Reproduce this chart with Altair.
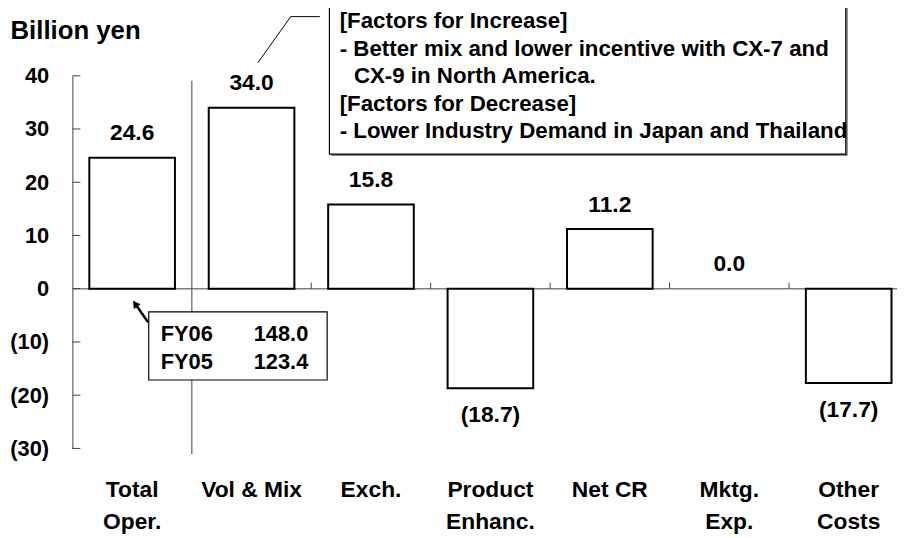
import altair as alt
import pandas as pd

FONT = "Liberation Sans"

# ---- data ----
categories = ["Total\nOper.", "Vol & Mix", "Exch.", "Product\nEnhanc.", "Net CR", "Mktg.\nExp.", "Other\nCosts"]
values = [24.6, 34.0, 15.8, -18.7, 11.2, 0.0, -17.7]
y_ticks = [-30, -20, -10, 0, 10, 20, 30, 40]
band_edges = [2, 3, 4, 5, 6]          # tick marks on the zero line (category boundaries)
separator_x = [1]                      # boundary between Total Oper. and the factors

# Callout box (top) — positions in category-index / billion-yen units
box1_x = [2.152]; box1_x2 = [6.476]; box1_y = [53.16]; box1_y2 = [25.29]
box1_lines = ["[Factors for Increase]",
              "- Better mix and lower incentive with CX-7 and",
              "CX-9 in North America.",
              "[Factors for Decrease]",
              "- Lower Industry Demand in Japan and Thailand"]
box1_line_x = [2.238, 2.238, 2.357, 2.238, 2.238]
box1_line_y = [48.95, 43.80, 38.65, 33.45, 28.25]
leader_x = [1.552, 1.828, 2.072]
leader_y = [42.42, 51.11, 51.11]

# FY box (bottom left)
fy_box_x = [0.639]; fy_box_x2 = [2.133]; fy_box_y = [-4.36]; fy_box_y2 = [-17.15]
fy_names = ["FY06", "FY05"]
fy_values = ["148.0", "123.4"]
fy_name_x = [0.739, 0.739]
fy_value_x = [1.975, 1.975]
fy_line_y = [-9.84, -15.11]
arrow_x = [0.634, 0.525]
arrow_y = [-6.30, -2.82]

# ---- frames ----
labels = [f"({abs(v):.1f})" if v < 0 else f"{v:.1f}" for v in values]
bars_df = pd.DataFrame({"cat": categories, "value": values, "base": [0] * len(values), "label": labels})

W_RANGE = 843.5
ys = alt.Scale(domain=[-30, 40], nice=False, zero=False)
qscale = alt.Scale(domain=[0, 7], range=[0, W_RANGE], nice=False, zero=False)

yaxis = alt.Axis(values=y_ticks, ticks=False, grid=False, domainColor="#404040", domainWidth=1,
                 labelExpr="datum.value < 0 ? '(' + abs(datum.value) + ')' : datum.label",
                 labelFont=FONT, labelFontSize=22, labelFontWeight="bold", labelColor="black",
                 labelPadding=24,
                 title="Billion yen", titleAngle=0, titleAlign="left", titleBaseline="alphabetic",
                 titleX=-63, titleY=-38, titleFont=FONT, titleFontSize=26, titleFontWeight="bold",
                 titleColor="black")


def qx(field):
    return alt.X(field, type="quantitative", scale=qscale, axis=None)


def qy(field):
    return alt.Y(field, type="quantitative", scale=ys, axis=yaxis)


xb = alt.X("cat:N", sort=categories,
           scale=alt.Scale(domain=categories, range=[0, W_RANGE], paddingInner=0.283, paddingOuter=0.1415),
           axis=alt.Axis(title=None, ticks=False, domain=False, labelAngle=0, grid=False,
                         labelExpr="split(datum.label, '\\n')",
                         labelFont=FONT, labelFontSize=23, labelFontWeight="bold", labelColor="black",
                         labelPadding=31, labelLineHeight=32, labelBaseline="top"))

# ---- under layers (quantitative x) ----
zero_df = pd.DataFrame({"x": [0], "x2": [7], "y": [0]})
zero_line = alt.Chart(zero_df).mark_rule(color="#7f7f7f", strokeWidth=1.5).encode(
    x=qx("x"), x2="x2:Q", y=qy("y"))

xt_df = pd.DataFrame({"x": band_edges, "y": [0] * len(band_edges), "y2": [1.12] * len(band_edges)})
xticks = alt.Chart(xt_df).mark_rule(color="#404040", strokeWidth=1).encode(
    x=qx("x"), y=qy("y"), y2="y2:Q")

sep_df = pd.DataFrame({"x": separator_x, "y": [39.07], "y2": [-31.1]})
separator = alt.Chart(sep_df).mark_rule(color="#404040", strokeWidth=1).encode(
    x=qx("x"), y=qy("y"), y2="y2:Q")

yt_df = pd.DataFrame({"t": y_ticks})
yticks = alt.Chart(yt_df).mark_rule(color="#404040", strokeWidth=1).encode(
    y=qy("t"), x=alt.value(0), x2=alt.value(8))

under = alt.layer(zero_line, xticks, separator, yticks)

# ---- bars and value labels (band x) ----
bars = alt.Chart(bars_df).transform_filter("datum.value != 0").mark_bar(
    fill="white", stroke="black", strokeWidth=2).encode(
    x=xb, y=qy("value"), y2="base:Q")

lab_pos = alt.Chart(bars_df).transform_filter("datum.value >= 0").mark_text(
    font=FONT, fontSize=23, fontWeight="bold", color="black", baseline="alphabetic", dy=-17.5).encode(
    x=xb, y=qy("value"), text="label:N")
lab_neg = alt.Chart(bars_df).transform_filter("datum.value < 0").mark_text(
    font=FONT, fontSize=23, fontWeight="bold", color="black", baseline="alphabetic", dy=34.5).encode(
    x=xb, y=qy("value"), text="label:N")

band = alt.layer(bars, lab_pos, lab_neg)

# ---- annotations (quantitative x) ----
b1 = pd.DataFrame({"x": box1_x, "x2": box1_x2, "y": box1_y, "y2": box1_y2})
b1s = pd.DataFrame({"x": [box1_x[0] + 0.017], "x2": [box1_x2[0] + 0.017],
                    "y": [box1_y[0] - 0.37], "y2": [box1_y2[0] - 0.37]})
shadow1 = alt.Chart(b1s).mark_rect(fill="#8c8c8c").encode(x=qx("x"), x2="x2:Q", y=qy("y"), y2="y2:Q")
box1 = alt.Chart(b1).mark_rect(fill="white", stroke="black", strokeWidth=1.2).encode(
    x=qx("x"), x2="x2:Q", y=qy("y"), y2="y2:Q")
t1_df = pd.DataFrame({"x": box1_line_x, "y": box1_line_y, "t": box1_lines})
text1 = alt.Chart(t1_df).mark_text(font=FONT, fontSize=22.5, fontWeight="bold", color="black",
                                   align="left", baseline="alphabetic").encode(
    x=qx("x"), y=qy("y"), text="t:N")
ld_df = pd.DataFrame({"x": leader_x, "y": leader_y, "o": [0, 1, 2]})
leader = alt.Chart(ld_df).mark_line(color="black", strokeWidth=1).encode(
    x=qx("x"), y=qy("y"), order="o:Q")

fyb = pd.DataFrame({"x": fy_box_x, "x2": fy_box_x2, "y": fy_box_y, "y2": fy_box_y2})
fybox = alt.Chart(fyb).mark_rect(fill="white", stroke="black", strokeWidth=1.2).encode(
    x=qx("x"), x2="x2:Q", y=qy("y"), y2="y2:Q")
fyn_df = pd.DataFrame({"x": fy_name_x, "y": fy_line_y, "t": fy_names})
fyv_df = pd.DataFrame({"x": fy_value_x, "y": fy_line_y, "t": fy_values})
fyn = alt.Chart(fyn_df).mark_text(font=FONT, fontSize=22, fontWeight="bold", color="black",
                                  align="left", baseline="alphabetic").encode(
    x=qx("x"), y=qy("y"), text="t:N")
fyv = alt.Chart(fyv_df).mark_text(font=FONT, fontSize=22, fontWeight="bold", color="black",
                                  align="right", baseline="alphabetic").encode(
    x=qx("x"), y=qy("y"), text="t:N")
ar_df = pd.DataFrame({"x": arrow_x, "y": arrow_y, "o": [0, 1]})
arrow = alt.Chart(ar_df).mark_line(color="black", strokeWidth=2.5).encode(
    x=qx("x"), y=qy("y"), order="o:Q")
ah_df = pd.DataFrame({"x": [arrow_x[1]], "y": [arrow_y[1]]})
arrowhead = alt.Chart(ah_df).mark_point(shape="triangle-up", filled=True, color="black",
                                        size=70, angle=325, opacity=1).encode(
    x=qx("x"), y=qy("y"))

over = alt.layer(shadow1, box1, text1, leader, fybox, fyn, fyv, arrow, arrowhead)

chart = alt.layer(under, band, over).resolve_scale(x="independent").properties(
    width=832, height=376,
    autosize="none",
    background="white",
    padding={"left": 65, "top": 66, "right": 0, "bottom": 88},
).configure_view(stroke=None).configure_axis(grid=False, gridOpacity=0)

chart.save("out.html", embed_options={"renderer": "svg", "actions": False})
